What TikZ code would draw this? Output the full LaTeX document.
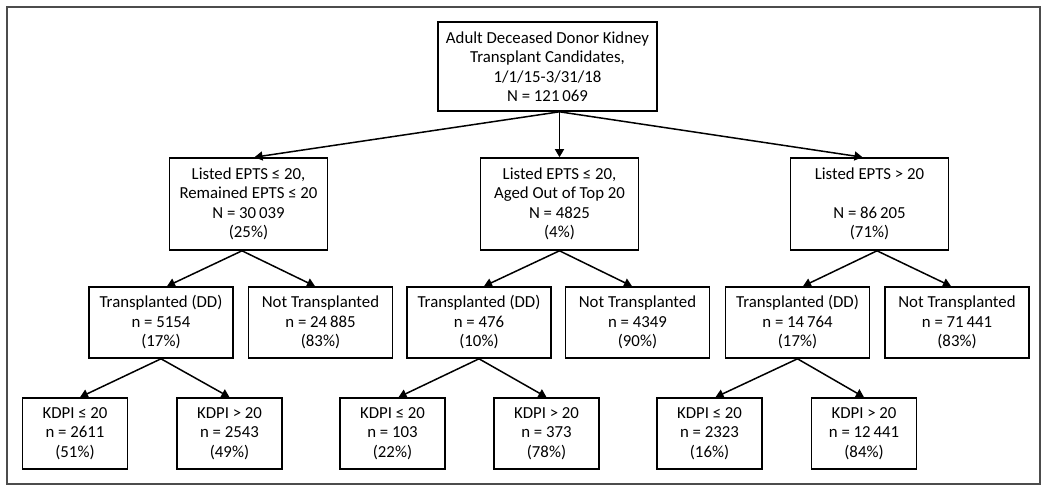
\documentclass[tikz,border=0pt]{standalone}
\usepackage{fontspec}
\setmainfont{Carlito}
\usetikzlibrary{arrows.meta,calc}
\begin{document}
\begin{tikzpicture}[x=1pt,y=-1pt,
  box/.style={draw=black,line width=1.6pt,rectangle,inner sep=0pt,align=center,
    font=\fontsize{16.8}{19.5}\selectfont},
  topbox/.style={box,minimum width=219pt,minimum height=89pt},
  midbox/.style={box,minimum width=158pt,minimum height=92pt},
  trbox/.style={box,minimum width=144pt,minimum height=71pt},
  kbox/.style={box,minimum width=105pt,minimum height=71pt},
  conn/.style={line width=1.5pt,-{Triangle[length=8pt,width=9pt]}}]
\useasboundingbox (0,0) rectangle (1050,492);
\draw[line width=1.8pt,draw=black!70] (7,7) rectangle (1040,484);

\node[topbox] (top) at (547.5,66.5) {Adult Deceased Donor Kidney\\Transplant Candidates,\\1/1/15-3/31/18\\N = 121\thinspace069};

\node[midbox] (ma) at (248.5,204) {Listed EPTS ≤ 20,\\Remained EPTS ≤ 20\\N = 30\thinspace039\\(25\%)};
\node[midbox] (mb) at (559.5,204) {Listed EPTS ≤ 20,\\Aged Out of Top 20\\N = 4825\\(4\%)};
\node[midbox] (mc) at (869.5,204) {Listed EPTS > 20\\\strut\\N = 86\thinspace205\\(71\%)};

\node[trbox] (ta) at (161,322.5) {Transplanted (DD)\\n = 5154\\(17\%)};
\node[trbox] (na) at (320.5,322.5) {Not Transplanted\\n = 24\thinspace885\\(83\%)};
\node[trbox] (tb) at (479,322.5) {Transplanted (DD)\\n = 476\\(10\%)};
\node[trbox] (nb) at (637.5,322.5) {Not Transplanted\\n = 4349\\(90\%)};
\node[trbox] (tc) at (797.5,322.5) {Transplanted (DD)\\n = 14\thinspace764\\(17\%)};
\node[trbox] (nc) at (957,322.5) {Not Transplanted\\n = 71\thinspace441\\(83\%)};

\node[kbox] (ka1) at (75,433.5) {KDPI ≤ 20\\n = 2611\\(51\%)};
\node[kbox] (ka2) at (229.5,433.5) {KDPI > 20\\n = 2543\\(49\%)};
\node[kbox] (kb1) at (392.5,433.5) {KDPI ≤ 20\\n = 103\\(22\%)};
\node[kbox] (kb2) at (546.5,433.5) {KDPI > 20\\n = 373\\(78\%)};
\node[kbox] (kc1) at (709.5,433.5) {KDPI ≤ 20\\n = 2323\\(16\%)};
\node[kbox] (kc2) at (864,433.5) {KDPI > 20\\n = 12\thinspace441\\(84\%)};

\coordinate (o) at (mb.north |- top.south);
\draw[conn] (o) -- ($(ma.north)+(6,0)$);
\draw[conn] (o) -- (mb.north);
\draw[conn] (o) -- ($(mc.north)+(-7,0)$);

\coordinate (oa) at ($(ma.south)+(-6.5,0)$);
\draw[conn] (oa) -- ($(ta.north)+(6,0)$);
\draw[conn] (oa) -- ($(na.north)+(-5.5,0)$);
\draw[conn] (mb.south) -- ($(tb.north)+(5,0)$);
\draw[conn] (mb.south) -- ($(nb.north)+(-5.5,0)$);
\coordinate (oc) at ($(mc.south)+(7.5,0)$);
\draw[conn] (oc) -- ($(tc.north)+(5.5,0)$);
\draw[conn] (oc) -- ($(nc.north)+(-6,0)$);

\draw[conn] (ta.south) -- ($(ka1.north)+(5,0)$);
\draw[conn] (ta.south) -- (ka2.north);
\draw[conn] (tb.south) -- ($(kb1.north)+(6,0)$);
\draw[conn] (tb.south) -- (kb2.north);
\draw[conn] (tc.south) -- ($(kc1.north)+(6,0)$);
\draw[conn] (tc.south) -- (kc2.north);
\end{tikzpicture}
\end{document}
